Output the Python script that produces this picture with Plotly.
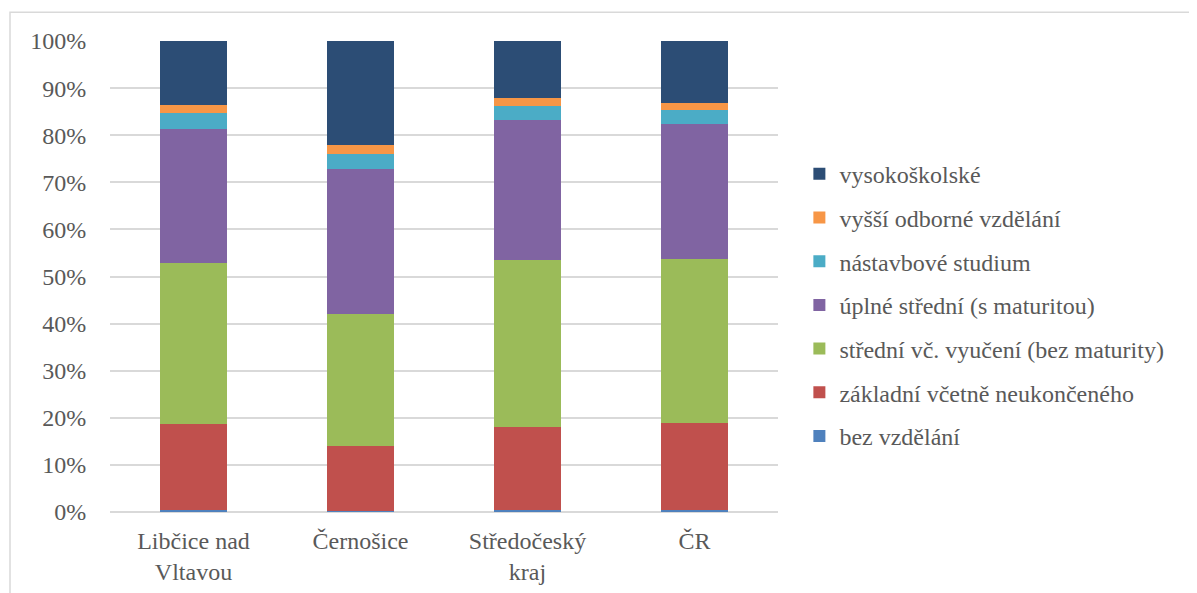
import plotly.graph_objects as go

categories = ["Libčice nad<br>Vltavou", "Černošice", "Středočeský<br>kraj", "ČR"]

bez_vzdelani = [0.35, 0.3, 0.4, 0.4]
zakladni = [18.3, 13.7, 17.7, 18.5]
stredni_vyuceni = [34.2, 28.0, 35.5, 34.9]
uplne_stredni = [28.6, 31.0, 29.7, 28.6]
nastavbove = [3.4, 3.0, 2.9, 3.0]
vyssi_odborne = [1.5, 2.0, 1.6, 1.4]
vysokoskolske = [13.7, 22.1, 12.2, 13.2]

series = [
    ("bez vzdělání", bez_vzdelani, "#4F81BD"),
    ("základní včetně neukončeného", zakladni, "#C0504D"),
    ("střední vč. vyučení (bez maturity)", stredni_vyuceni, "#9BBB59"),
    ("úplné střední (s maturitou)", uplne_stredni, "#8064A2"),
    ("nástavbové studium", nastavbove, "#4BACC6"),
    ("vyšší odborné vzdělání", vyssi_odborne, "#F79646"),
    ("vysokoškolské", vysokoskolske, "#2C4D75"),
]

FONT = "Liberation Serif"
TXT = "#595959"

fig = go.Figure()
for i, (name, vals, color) in enumerate(series):
    fig.add_trace(go.Bar(
        x=categories, y=vals, name=name, legendgroup=str(i),
        legendrank=100 - i,
        marker=dict(color=color, line=dict(width=0)),
    ))

fig.update_layout(
    barmode="stack",
    barnorm="percent",
    bargap=0.6,
    width=1197, height=593,
    margin=dict(l=102, r=427, t=33, b=89),
    plot_bgcolor="white", paper_bgcolor="white",
    font=dict(family=FONT, size=24, color=TXT),
    showlegend=True,
    legend=dict(
        traceorder="grouped", tracegroupgap=9.5,
        x=1.032, xanchor="left", y=0.765, yanchor="top",
        font=dict(family=FONT, size=24, color=TXT),
        bgcolor="rgba(0,0,0,0)",
    ),
    xaxis=dict(showgrid=False, showline=False, ticks="",
               ticklabelstandoff=12,
               tickfont=dict(family=FONT, size=24, color=TXT)),
    yaxis=dict(range=[0, 100], dtick=10, ticksuffix="%",
               showgrid=True, gridcolor="#D9D9D9", gridwidth=1.5,
               zeroline=True, zerolinecolor="#D9D9D9", zerolinewidth=1.5,
               showline=False, ticks="outside", ticklen=18,
               tickcolor="rgba(0,0,0,0)",
               tickfont=dict(family=FONT, size=24, color=TXT)),
    shapes=[dict(type="rect", xref="paper", yref="paper",
                 x0=-0.1497, x1=2.0, y0=-1.0, y1=1.0612,
                 line=dict(color="#D9D9D9", width=1.5), layer="below")],
)

fig.write_html("out.html")
